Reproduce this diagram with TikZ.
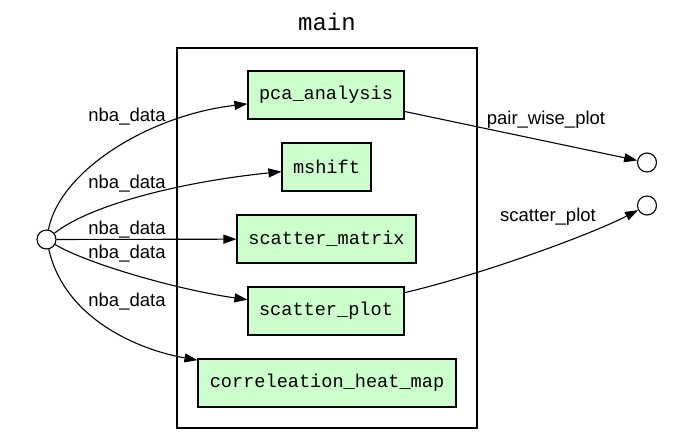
\documentclass[tikz,border=0pt]{standalone}
\usepackage{fontspec}
\setmainfont{Liberation Sans}
\newfontfamily\monofont{Liberation Mono}
\usetikzlibrary{arrows.meta}
\definecolor{nodegreen}{HTML}{CCFFCC}
\begin{document}
\begin{tikzpicture}[x=1pt,y=-1pt,
  task/.style={draw=black, line width=1.1pt, fill=nodegreen, minimum height=48pt, inner sep=0pt, font=\monofont\fontsize{18.6}{20}\selectfont},
  port/.style={circle, draw=black, line width=1.1pt, fill=white, minimum size=19pt, inner sep=0pt},
  edge/.style={line width=1.1pt, -{Triangle[length=13pt,width=9pt]}},
  elabel/.style={font=\fontsize{18.5}{20}\selectfont, inner sep=0pt}
]
\useasboundingbox (0,0) rectangle (694,445);
\node[font=\monofont\fontsize{24}{26}\selectfont, inner sep=0pt] (title) at (327,22) {main};
\node[draw=black, line width=2.6pt, minimum width=300pt, minimum height=380pt, inner sep=0pt] (cluster) at (327,238) {};
\node[task, minimum width=156pt] (pca) at (326,95) {pca\_analysis};
\node[task, minimum width=89pt] (ms) at (326.5,167) {mshift};
\node[task, minimum width=179pt] (sm) at (326.5,239) {scatter\_matrix};
\node[task, minimum width=156pt] (sp) at (326,311) {scatter\_plot};
\node[task, minimum width=258pt] (hm) at (327,383) {correleation\_heat\_map};
\node[port] (L) at (46.5,239.5) {};
\node[port] (R1) at (647,162.5) {};
\node[port] (R2) at (647,205.5) {};
\draw[edge] (L) .. controls (60,170) and (150,115) .. (pca);
\draw[edge] (L) .. controls (90,205) and (180,182) .. (ms);
\draw[edge] (L) -- (sm);
\draw[edge] (L) .. controls (90,265) and (180,290) .. (sp);
\draw[edge] (L) .. controls (65,320) and (140,350) .. (hm);
\draw[edge] (pca) -- (R1);
\draw[edge] (sp) .. controls (480,275) and (590,235) .. (R2);
\node[elabel] (l1) at (127,117) {nba\_data};
\node[elabel] (l2) at (127,184) {nba\_data};
\node[elabel] (l3) at (127,230) {nba\_data};
\node[elabel] (l4) at (127,254) {nba\_data};
\node[elabel] (l5) at (127,302) {nba\_data};
\node[elabel] (l6) at (546,120) {pair\_wise\_plot};
\node[elabel] (l7) at (548,217) {scatter\_plot};
\end{tikzpicture}
\end{document}
